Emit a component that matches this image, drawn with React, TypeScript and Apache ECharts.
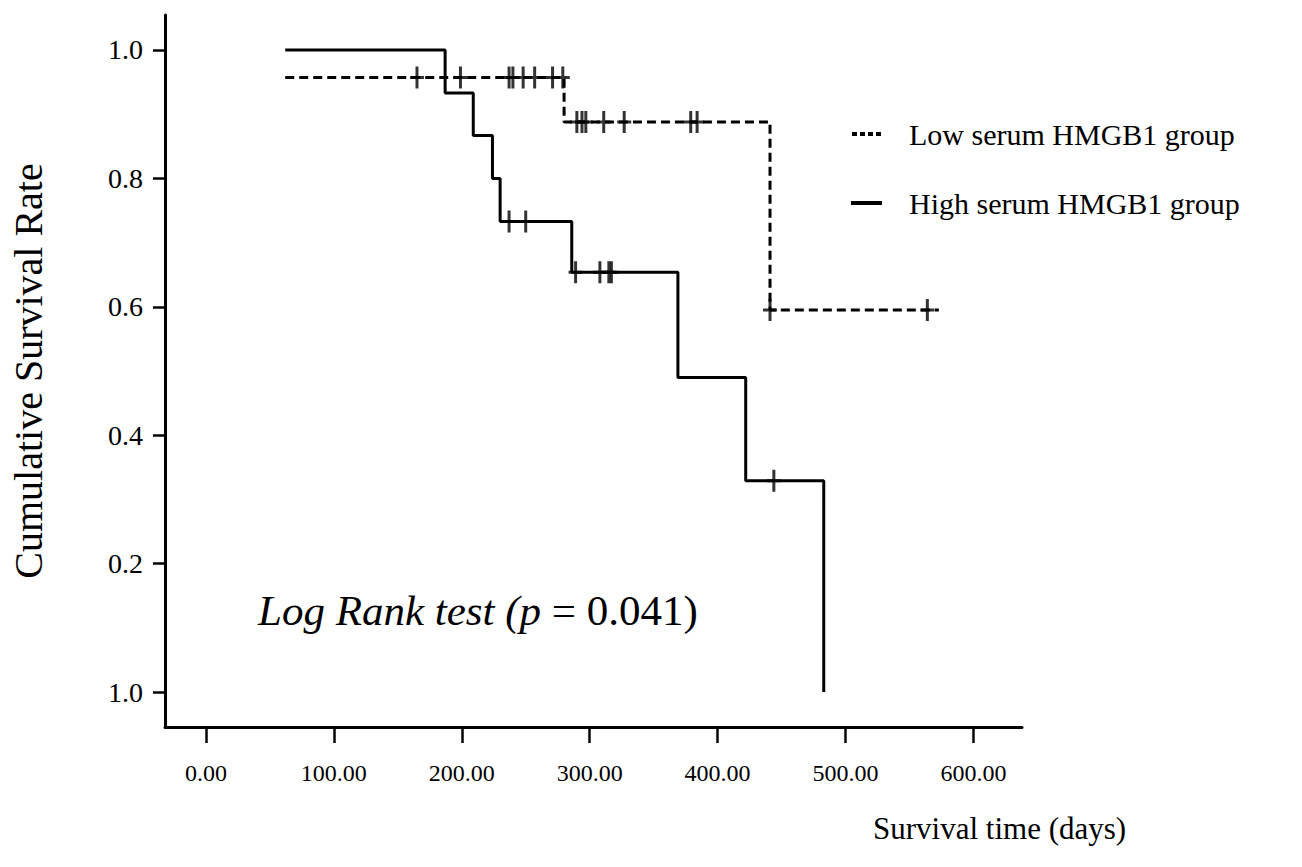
import React, { useEffect, useRef } from "react";
import * as echarts from "echarts";

// ---- data ----
const seriesNames = ["Low serum HMGB1 group", "High serum HMGB1 group"];

// High serum HMGB1 group: event times (days) and survival after each step
const highTimes = [62, 187, 209, 224, 230, 286, 369, 422, 483];
const highSurvival = [1.0, 0.933, 0.867, 0.8, 0.733, 0.654, 0.49, 0.329, 0.0];
const highCensored = [237, 250, 289, 308, 315, 317, 444];

// Low serum HMGB1 group
const lowTimes = [62, 280, 441, 573];
const lowSurvival = [0.957, 0.888, 0.595, 0.595];
const lowCensored = [165, 199, 237, 240, 248, 257, 271, 279, 290, 294, 297, 311, 327, 379, 384, 441, 564];

const xTicks = [0, 100, 200, 300, 400, 500, 600];
const yTicks = [0, 0.2, 0.4, 0.6, 0.8, 1.0];
const yTickLabels = ["1.0", "0.2", "0.4", "0.6", "0.8", "1.0"];

const xTitle = "Survival time (days)";
const yTitle = "Cumulative Survival Rate";
const annotationItalic = "Log Rank test (p ";
const annotationPlain = "= 0.041)";

function survivalAt(times: number[], surv: number[], t: number): number {
  let v = surv[0];
  for (let i = 0; i < times.length; i++) if (times[i] <= t) v = surv[i];
  return v;
}

// "+" shaped censor mark (vertical bar crossing the curve)
const censorSymbol = "path://M5.5,0h3v9.5h5.5v3h-5.5v9.5h-3v-9.5h-5.5v-3h5.5z";

export default function App() {
  const ref = useRef<HTMLDivElement>(null);

  useEffect(() => {
    if (!ref.current) return;
    const chart = echarts.init(ref.current, undefined, { renderer: "svg" });
    const font = '"Liberation Serif", "Times New Roman", serif';

    const highLine = highTimes.map((t, i) => [t, highSurvival[i]]);
    const lowLine = lowTimes.map((t, i) => [t, lowSurvival[i]]);
    const highMarks = highCensored.map((t) => [t, survivalAt(highTimes, highSurvival, t)]);
    const lowMarks = lowCensored.map((t) => [t, survivalAt(lowTimes, lowSurvival, t)]);

    const option: any = {
      animation: false,
      backgroundColor: "#ffffff",
      grid: { left: 163, top: 15, width: 859, height: 712 },
      xAxis: {
        type: "value",
        min: -32,
        max: 638,
        axisLine: { onZero: false, lineStyle: { color: "#000", width: 3 } },
        axisTick: {
          show: true,
          customValues: xTicks,
          length: 16,
          lineStyle: { color: "#000", width: 2.5 },
        },
        axisLabel: {
          customValues: xTicks,
          formatter: (v: number) => v.toFixed(2),
          margin: 34,
          fontFamily: font,
          fontSize: 24,
          color: "#000",
        },
        splitLine: { show: false },
      },
      yAxis: {
        type: "value",
        min: -0.0545,
        max: 1.0545,
        name: yTitle,
        nameLocation: "middle",
        nameRotate: 90,
        nameGap: 117,
        nameTextStyle: { fontFamily: font, fontSize: 40, color: "#000" },
        axisLine: { onZero: false, lineStyle: { color: "#000", width: 3 } },
        axisTick: {
          show: true,
          customValues: yTicks,
          length: 12,
          lineStyle: { color: "#000", width: 2.5 },
        },
        axisLabel: {
          customValues: yTicks,
          formatter: (v: number) =>
            yTickLabels[yTicks.findIndex((y) => Math.abs(y - v) < 1e-6)] ?? v.toFixed(1),
          margin: 22,
          fontFamily: font,
          fontSize: 28,
          color: "#000",
        },
        splitLine: { show: false },
      },
      legend: {
        orient: "vertical",
        left: 846,
        top: 114,
        itemWidth: 31,
        itemHeight: 4,
        itemGap: 39,
        selectedMode: false,
        data: [
          {
            name: seriesNames[0],
            icon: "path://M0,0h5v4h-5z M8,0h5v4h-5z M16,0h5v4h-5z M24,0h5v4h-5z",
            itemStyle: { color: "#000" },
          },
          {
            name: seriesNames[1],
            icon: "path://M0,0h31v4h-31z",
            itemStyle: { color: "#000" },
          },
        ],
        textStyle: {
          fontFamily: font,
          fontSize: 30,
          lineHeight: 30,
          color: "#000",
          padding: [0, 0, 0, 22],
        },
      },
      graphic: [
        {
          type: "text",
          x: 258,
          y: 610,
          style: {
            text: `{i|${annotationItalic}}{n|${annotationPlain}}`,
            align: "left",
            verticalAlign: "middle",
            rich: {
              i: { fontFamily: font, fontStyle: "italic", fontSize: 43, fill: "#000" },
              n: { fontFamily: font, fontSize: 43, fill: "#000" },
            },
          },
        },
        {
          type: "text",
          x: 873,
          y: 828,
          style: {
            text: xTitle,
            align: "left",
            verticalAlign: "middle",
            fontFamily: font,
            fontSize: 31,
            fill: "#000",
          },
        },
      ],
      series: [
        {
          name: seriesNames[0],
          type: "line",
          step: "end",
          symbol: "none",
          data: lowLine,
          lineStyle: { color: "#000", width: 3, type: [9, 5] },
          itemStyle: { color: "#000" },
          z: 3,
        },
        {
          name: seriesNames[1],
          type: "line",
          step: "end",
          symbol: "none",
          data: highLine,
          lineStyle: { color: "#000", width: 3, type: "solid" },
          itemStyle: { color: "#000" },
          z: 3,
        },
        {
          name: "Low censored",
          type: "scatter",
          symbol: censorSymbol,
          symbolSize: [14, 22],
          data: lowMarks,
          itemStyle: { color: "#000" },
          z: 4,
        },
        {
          name: "High censored",
          type: "scatter",
          symbol: censorSymbol,
          symbolSize: [14, 22],
          data: highMarks,
          itemStyle: { color: "#000" },
          z: 4,
        },
      ],
    };

    chart.setOption(option);
    return () => chart.dispose();
  }, []);

  return (
    <div
      ref={ref}
      style={{ position: "absolute", left: 0, top: 0, width: "1302px", height: "867px", background: "#fff" }}
    />
  );
}
